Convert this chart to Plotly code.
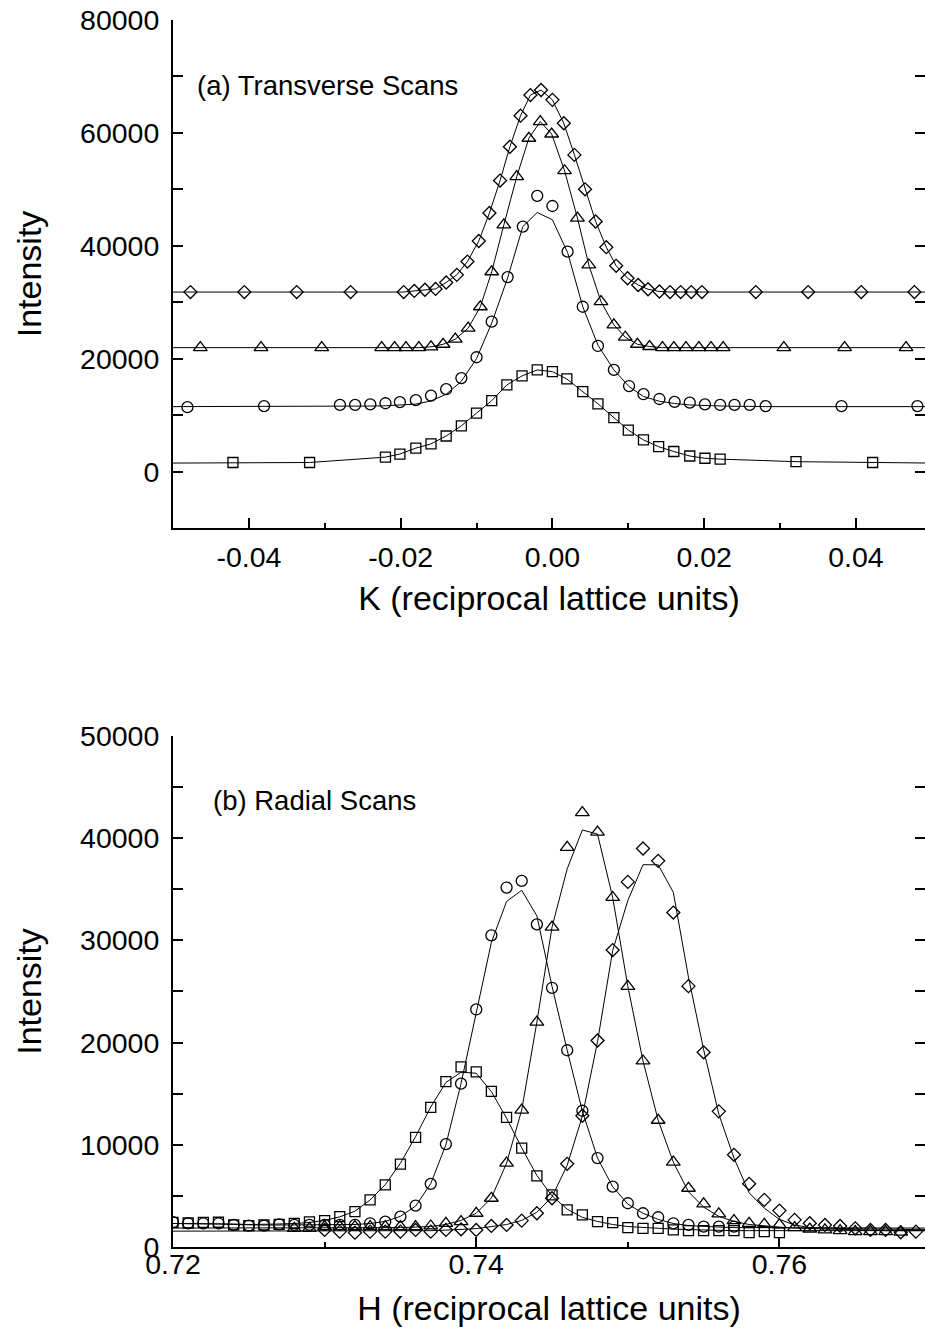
import plotly.graph_objects as go

FONT = "Liberation Sans, Arial, sans-serif"

# ---------------- (a) Transverse scans ----------------
K_edges = [-0.05, 0.05]

K_diamond = [-0.0477, -0.0406, -0.0337, -0.0266, -0.0196, -0.0182, -0.0168, -0.0154, -0.0140,
             -0.0126, -0.0112, -0.0097, -0.0083, -0.0069, -0.0056, -0.0042, -0.0029, -0.0015,
             0.0000, 0.0015, 0.0029, 0.0043, 0.0057, 0.0071, 0.0084, 0.0099, 0.0113, 0.0126,
             0.0141, 0.0155, 0.0169, 0.0183, 0.0197, 0.0268, 0.0337, 0.0407, 0.0477]
I_diamond = [31800, 31800, 31800, 31800, 31800, 32000, 32200, 32350, 33500,
             34850, 37200, 40850, 45800, 51550, 57550, 63050, 66700, 67600,
             65850, 61700, 56100, 50000, 44300, 39750, 36450, 34250, 33050, 32300,
             31900, 31800, 31800, 31800, 31800, 31800, 31800, 31800, 31800]
base_diamond = [31800, 31800]

K_triangle = [-0.0464, -0.0384, -0.0304, -0.0225, -0.0208, -0.0193, -0.0176, -0.0160, -0.0144,
              -0.0128, -0.0111, -0.0095, -0.0080, -0.0064, -0.0047, -0.0031, -0.0016, -0.0001,
              0.0016, 0.0033, 0.0048, 0.0064, 0.0081, 0.0096, 0.0112, 0.0128,
              0.0145, 0.0160, 0.0176, 0.0193, 0.0209, 0.0225, 0.0305, 0.0385, 0.0466]
I_triangle = [21950, 21950, 21950, 21950, 21950, 21950, 21950, 22100, 22550,
              23450, 25400, 29200, 35400, 43700, 52250, 59050, 62000, 59800,
              53300, 44900, 36600, 30100, 26000, 23800, 22550, 22150,
              21950, 21950, 21950, 21950, 21950, 21950, 21950, 21950, 21950]
base_triangle = [21950, 21950]

K_circle = [-0.0481, -0.0380, -0.0280, -0.0260, -0.0240, -0.0220, -0.0201, -0.0180, -0.0160,
            -0.0140, -0.0120, -0.0100, -0.0080, -0.0059, -0.0039, -0.0020, 0.0000, 0.0020,
            0.0040, 0.0060, 0.0081, 0.0101, 0.0120, 0.0141, 0.0161, 0.0181, 0.0201,
            0.0221, 0.0240, 0.0260, 0.0281, 0.0381, 0.0481]
I_circle = [11400, 11600, 11800, 11800, 11900, 12100, 12300, 12650, 13450,
            14600, 16550, 20250, 26550, 34450, 43400, 48850, 47050, 38950,
            29200, 22250, 18000, 15150, 13700, 12850, 12350, 12200, 11900,
            11800, 11800, 11800, 11600, 11600, 11600]
fit_circle = [11500, 11500, 11550, 11550, 11600, 11650, 11750, 11950, 12500,
              13700, 16000, 20000, 26300, 34300, 43400, 45900, 44600, 38800,
              29200, 22400, 18000, 15050, 13300, 12450, 12050, 11800, 11700,
              11600, 11550, 11550, 11500, 11500, 11500]
base_circle = [11500, 11500]

K_square = [-0.0421, -0.0320, -0.0220, -0.0201, -0.0180, -0.0160, -0.0140, -0.0120, -0.0100,
            -0.0080, -0.0060, -0.0040, -0.0020, 0.0000, 0.0019, 0.0040, 0.0060, 0.0081,
            0.0100, 0.0120, 0.0140, 0.0160, 0.0181, 0.0201, 0.0221, 0.0321, 0.0422]
I_square = [1600, 1600, 2550, 3100, 4150, 4900, 6300, 8100, 10350,
            12550, 15350, 16950, 18000, 17700, 16400, 14150, 12000, 9550,
            7350, 5600, 4400, 3550, 2750, 2350, 2200, 1750, 1600]
base_square = [1500, 1500]

K_tickvals = [-0.04, -0.02, 0.0, 0.02, 0.04]
K_ticktext = ["-0.04", "-0.02", "0.00", "0.02", "0.04"]

# ---------------- (b) Radial scans ----------------
H_square = [0.720, 0.721, 0.722, 0.723, 0.724, 0.725, 0.726, 0.727, 0.728, 0.729,
            0.730, 0.731, 0.732, 0.733, 0.734, 0.735, 0.736, 0.737, 0.738, 0.739,
            0.740, 0.741, 0.742, 0.743, 0.744, 0.745, 0.746, 0.747, 0.748, 0.749,
            0.750, 0.751, 0.752, 0.753, 0.754, 0.755, 0.756, 0.757, 0.758, 0.759, 0.760]
R_square = [2400, 2350, 2400, 2420, 2160, 2100, 2150, 2220, 2320, 2450,
            2580, 2970, 3460, 4610, 6080, 8100, 10720, 13660, 16180, 17620,
            17130, 15230, 12680, 9680, 6960, 5100, 3630, 3140, 2480, 2380,
            1890, 1830, 1830, 1670, 1600, 1600, 1600, 1600, 1400, 1500, 1400]
Rfit_square = [2300, 2300, 2300, 2300, 2250, 2200, 2200, 2250, 2300, 2400,
               2600, 2950, 3500, 4600, 6100, 8200, 10800, 13700, 16100, 17100,
               17000, 15200, 12600, 9700, 7000, 5000, 3700, 2900, 2500, 2200,
               2000, 1900, 1800, 1750, 1700, 1650, 1600, 1600, 1600, 1600, 1600]

H_circle = [0.720, 0.721, 0.722, 0.723, 0.724, 0.725, 0.726, 0.727, 0.728, 0.729,
            0.730, 0.731, 0.732, 0.733, 0.734, 0.735, 0.736, 0.737, 0.738, 0.739,
            0.740, 0.741, 0.742, 0.743, 0.744, 0.745, 0.746, 0.747, 0.748, 0.749,
            0.750, 0.751, 0.752, 0.753, 0.754, 0.755, 0.756, 0.757]
R_circle = [2420, 2320, 2320, 2320, 2160, 2090, 2090, 2220, 2160, 2160,
            2160, 2160, 2160, 2320, 2480, 2970, 4050, 6180, 10070, 15980,
            23240, 30490, 35170, 35820, 31570, 25360, 19250, 13330, 8700, 5910,
            4280, 3300, 2910, 2320, 2160, 1990, 1990, 1990]
Rfit_circle = [2300, 2300, 2250, 2250, 2200, 2150, 2150, 2150, 2150, 2150,
               2150, 2150, 2200, 2300, 2500, 3000, 4000, 6200, 10000, 16000,
               22900, 29800, 33800, 34900, 32400, 25500, 19250, 13300, 8700, 5900,
               4200, 3300, 2700, 2300, 2100, 2000, 1950, 1900]

H_triangle = [0.728, 0.729, 0.730, 0.731, 0.732, 0.733, 0.734, 0.735, 0.736, 0.737,
              0.738, 0.739, 0.740, 0.741, 0.742, 0.743, 0.744, 0.745, 0.746, 0.747,
              0.748, 0.749, 0.750, 0.751, 0.752, 0.753, 0.754, 0.755, 0.756, 0.757,
              0.758, 0.759, 0.760, 0.761, 0.762, 0.763, 0.764, 0.765, 0.766, 0.767, 0.768]
R_triangle = [1830, 1830, 1990, 1990, 1990, 1990, 1990, 1990, 1990, 2060,
              2320, 2480, 3300, 4770, 8200, 13400, 22000, 31300, 39100, 42500,
              40600, 34200, 25500, 18200, 12400, 8300, 5750, 4220, 3240, 2580,
              2320, 2220, 2160, 1900, 1760, 1670, 1600, 1500, 1500, 1500, 1450]
Rfit_triangle = [1850, 1850, 1900, 1900, 1900, 1900, 1900, 1900, 1950, 2000,
                 2200, 2600, 3300, 4800, 8200, 13400, 22000, 31300, 37000, 40800,
                 40400, 34200, 25500, 18200, 12400, 8300, 5400, 3900, 3000, 2500,
                 2200, 2050, 1950, 1850, 1800, 1750, 1700, 1650, 1650, 1600, 1600]

H_diamond = [0.730, 0.731, 0.732, 0.733, 0.734, 0.735, 0.736, 0.737, 0.738, 0.739,
             0.740, 0.741, 0.742, 0.743, 0.744, 0.745, 0.746, 0.747, 0.748, 0.749,
             0.750, 0.751, 0.752, 0.753, 0.754, 0.755, 0.756, 0.757, 0.758, 0.759,
             0.760, 0.761, 0.762, 0.763, 0.764, 0.765, 0.766, 0.767, 0.768, 0.769]
R_diamond = [1670, 1500, 1400, 1500, 1500, 1500, 1670, 1500, 1670, 1730,
             1670, 2060, 2160, 2580, 3300, 4770, 8140, 12840, 20200, 29050,
             35720, 38990, 37780, 32720, 25520, 19050, 13270, 9020, 6180, 4610,
             3560, 2650, 2320, 2160, 2060, 1830, 1670, 1670, 1440, 1500]
Rfit_diamond = [1550, 1550, 1550, 1550, 1550, 1550, 1600, 1600, 1650, 1700,
                1800, 2000, 2200, 2600, 3400, 4900, 8000, 12800, 20100, 29000,
                33900, 37400, 37400, 34700, 26400, 19300, 13000, 8700, 5300, 3800,
                2700, 2150, 1900, 1850, 1800, 1800, 1750, 1750, 1700, 1700]

H_edges = [0.720, 0.770]
Redge_square = [2300, 1600]
Redge_circle = [2300, 1850]
Redge_triangle = [1850, 1600]
Redge_diamond = [1550, 1700]

H_tickvals = [0.72, 0.74, 0.76]
H_ticktext = ["0.72", "0.74", "0.76"]

LINE = dict(color="black", width=1)


def line_trace(xs, ys, xa, ya):
    return go.Scatter(x=xs, y=ys, mode="lines", line=LINE, xaxis=xa, yaxis=ya,
                      showlegend=False, hoverinfo="skip")


def mark_trace(xs, ys, sym, size, xa, ya):
    return go.Scatter(x=xs, y=ys, mode="markers", xaxis=xa, yaxis=ya, showlegend=False,
                      marker=dict(symbol=sym, size=size, color="black",
                                  line=dict(color="black", width=1.3)))


fig = go.Figure()

# top panel lines (fits through data, extended to plot edges)
for kx, iy, base in [(K_diamond, I_diamond, base_diamond),
                     (K_triangle, I_triangle, base_triangle),
                     (K_circle, fit_circle, base_circle),
                     (K_square, I_square, base_square)]:
    fig.add_trace(line_trace([K_edges[0]] + kx + [K_edges[1]],
                             [base[0]] + iy + [base[1]], "x", "y"))
# markers on the right-hand (same-scale) overlay axis so that its ticks are drawn
fig.add_trace(mark_trace(K_diamond, I_diamond, "diamond-open", 10, "x", "y3"))
fig.add_trace(mark_trace(K_triangle, I_triangle, "triangle-up-open", 12, "x", "y3"))
fig.add_trace(mark_trace(K_circle, I_circle, "circle-open", 11, "x", "y3"))
fig.add_trace(mark_trace(K_square, I_square, "square-open", 10, "x", "y3"))

# bottom panel lines
for hx, fy, ed in [(H_square, Rfit_square, Redge_square),
                   (H_circle, Rfit_circle, Redge_circle),
                   (H_triangle, Rfit_triangle, Redge_triangle),
                   (H_diamond, Rfit_diamond, Redge_diamond)]:
    xs = list(hx)
    ys = list(fy)
    if xs[0] > H_edges[0]:
        xs = [H_edges[0]] + xs
        ys = [ed[0]] + ys
    xs = xs + [H_edges[1]]
    ys = ys + [ed[1]]
    fig.add_trace(line_trace(xs, ys, "x2", "y2"))
fig.add_trace(mark_trace(H_square, R_square, "square-open", 10, "x2", "y4"))
fig.add_trace(mark_trace(H_circle, R_circle, "circle-open", 11, "x2", "y4"))
fig.add_trace(mark_trace(H_triangle, R_triangle, "triangle-up-open", 12, "x2", "y4"))
fig.add_trace(mark_trace(H_diamond, R_diamond, "diamond-open", 10, "x2", "y4"))

TICKFONT = dict(family=FONT, size=28.5, color="black")
TITLEFONT = dict(family=FONT, size=34, color="black")
ANNFONT = dict(family=FONT, size=27.5, color="black")

xcommon = dict(showline=True, linecolor="black", linewidth=2, ticks="inside", ticklen=10,
               tickwidth=1.5, tickcolor="black", showgrid=False, zeroline=False,
               tickfont=TICKFONT, tickmode="array")
ycommon = dict(showline=True, linecolor="black", linewidth=2, ticks="inside", ticklen=10,
               tickwidth=1.5, tickcolor="black", showgrid=False, zeroline=False,
               tickfont=TICKFONT, tickformat="d", ticklabelstandoff=6)
yright = dict(showline=False, ticks="inside", ticklen=10, tickwidth=1.5, tickcolor="black",
              showticklabels=False, showgrid=False, zeroline=False, side="right")

TOP_DOM = [0.586, 1.0]
BOT_DOM = [0.0, 0.4165]
TOP_RANGE = [-10000, 80000]
BOT_RANGE = [0, 50000]

fig.update_layout(
    width=925, height=1334,
    margin=dict(l=173, r=0, t=20, b=87),
    paper_bgcolor="white", plot_bgcolor="white",
    font=dict(family=FONT, color="black"),
    xaxis=dict(xcommon, domain=[0, 1], anchor="y", range=[-0.05, 0.0491],
               tickvals=K_tickvals, ticktext=K_ticktext, ticklabelstandoff=3,
               minor=dict(ticks="inside", tickmode="linear", tick0=0, dtick=0.01, ticklen=5,
                          tickwidth=1.5, tickcolor="black"),
               title=dict(text="K (reciprocal lattice units)", font=TITLEFONT, standoff=14)),
    yaxis=dict(ycommon, domain=TOP_DOM, anchor="x", range=TOP_RANGE,
               dtick=20000, tick0=0,
               minor=dict(ticks="inside", dtick=10000, ticklen=10, tickwidth=1.5, tickcolor="black"),
               title=dict(text="Intensity", font=TITLEFONT, standoff=28)),
    yaxis3=dict(yright, overlaying="y", anchor="x", range=TOP_RANGE, dtick=20000, tick0=0,
                minor=dict(ticks="inside", dtick=10000, ticklen=10, tickwidth=1.5, tickcolor="black")),
    xaxis2=dict(xcommon, domain=[0, 1], anchor="y2", range=[0.72, 0.7696],
                tickvals=H_tickvals, ticktext=H_ticktext, ticklabelstandoff=-9,
                minor=dict(ticks="inside", tickmode="linear", tick0=0.72, dtick=0.01, ticklen=5,
                           tickwidth=1.5, tickcolor="black"),
                title=dict(text="H (reciprocal lattice units)", font=TITLEFONT, standoff=17)),
    yaxis2=dict(ycommon, domain=BOT_DOM, anchor="x2", range=BOT_RANGE,
                dtick=10000, tick0=0,
                minor=dict(ticks="inside", dtick=5000, ticklen=10, tickwidth=1.5, tickcolor="black"),
                title=dict(text="Intensity", font=TITLEFONT, standoff=28)),
    yaxis4=dict(yright, overlaying="y2", anchor="x2", range=BOT_RANGE, dtick=10000, tick0=0,
                minor=dict(ticks="inside", dtick=5000, ticklen=10, tickwidth=1.5, tickcolor="black")),
    annotations=[
        dict(text="(a) Transverse Scans", xref="x domain", yref="y domain", x=0.029, y=0.872,
             xanchor="left", yanchor="middle", showarrow=False, font=ANNFONT),
        dict(text="(b) Radial Scans", xref="x2 domain", yref="y2 domain", x=0.051, y=0.873,
             xanchor="left", yanchor="middle", showarrow=False, font=ANNFONT),
    ],
)

fig.write_html("out.html")
